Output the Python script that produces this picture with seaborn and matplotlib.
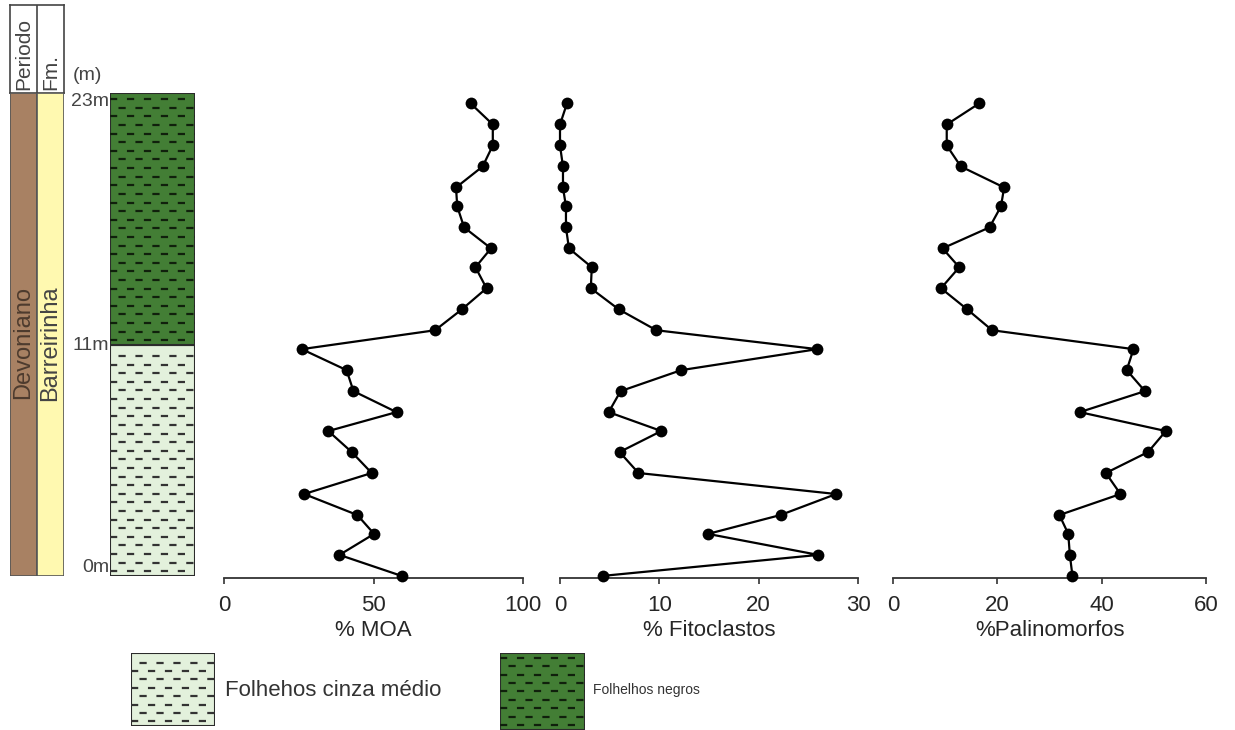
import numpy as np
import matplotlib
matplotlib.use("Agg")
import matplotlib.pyplot as plt
import seaborn as sns

# ---- data (bottom -> top) ----
depth_m = [0.0, 1.0, 2.0, 2.9, 3.9, 4.9, 5.9, 6.9, 7.8, 8.8, 9.8, 10.8,
           11.7, 12.7, 13.7, 14.7, 15.6, 16.6, 17.6, 18.5, 19.5, 20.5, 21.5, 22.5]

moa = [59.4, 38.6, 50.2, 44.6, 26.8, 49.4, 42.7, 34.9, 57.7, 43.3, 41.0, 26.0,
       70.6, 79.6, 87.8, 84.1, 89.3, 80.3, 78.0, 77.6, 86.5, 89.9, 89.9, 82.5]

fitoclastos = [4.3, 26.0, 14.9, 22.2, 27.8, 7.9, 6.0, 10.2, 4.9, 6.1, 12.2, 25.9,
               9.7, 5.9, 3.1, 3.2, 0.9, 0.6, 0.6, 0.3, 0.3, 0.0, 0.0, 0.7]

palinomorfos = [34.4, 33.9, 33.6, 31.9, 43.6, 40.8, 48.9, 52.3, 35.8, 48.3, 44.8, 46.1,
                19.0, 14.2, 9.2, 12.7, 9.5, 18.5, 20.7, 21.3, 13.0, 10.3, 10.3, 16.5]

# lithology layers
layer_bottom = [0, 11]
layer_top = [11, 23]
layer_name = ["Folhehos cinza médio", "Folhelhos negros"]
depth_labels = ["0m", "11m", "23m"]

panel_titles = ["% MOA", "% Fitoclastos", "%Palinomorfos"]
panel_xmax = [100, 30, 60]
panel_ticks = [[0, 50, 100], [0, 10, 20, 30], [0, 20, 40, 60]]

# colours
brown = "#a88163"
yellow = "#fff9b0"
light_green = "#e3f1dc"
dark_green = "#437e35"

sns.set_style("white")
plt.rcParams["font.family"] = ["Liberation Sans", "DejaVu Sans"]
plt.rcParams["lines.scale_dashes"] = False

W, H = 1235, 730
fig = plt.figure(figsize=(W / 100, H / 100), dpi=100)
fig.patch.set_facecolor("white")


def box(x0, y0, x1, y1):
    # pixel box (y from the top) -> figure fraction
    return [x0 / W, 1 - y1 / H, (x1 - x0) / W, (y1 - y0) / H]


def fxy(x, y):
    return x / W, 1 - y / H


def shale(ax, y0, y1, face, ink, step):
    # filled layer with rows of short dashes
    ax.bar(0.5, y1 - y0, bottom=y0, width=1, color=face, edgecolor="#2b2b2b",
           linewidth=1.5, zorder=1)
    rows = np.arange(y0 + step * 0.55, y1 - step * 0.3, step)
    for k, yy in enumerate(rows):
        off = 0 if k % 2 == 0 else 6.1
        ax.plot([0, 1], [yy, yy], color=ink, lw=1.6,
                linestyle=(off, (5.2, 7.0)), solid_capstyle="butt", zorder=2)


# ---- stratigraphy header ----
ax_h = fig.add_axes(box(10, 5, 64, 93))
ax_h.set_xlim(0, 2)
ax_h.set_ylim(0, 1)
ax_h.axvline(1, color="#444444", lw=1.2)
ax_h.set_xticks([])
ax_h.set_yticks([])
for s in ax_h.spines.values():
    s.set_color("#444444")
    s.set_linewidth(1.2)
ax_h.text(0.5, 0.03, "Periodo", rotation=90, ha="center", va="bottom",
          fontsize=15, color="#444444")
ax_h.text(1.5, 0.03, "Fm.", rotation=90, ha="center", va="bottom",
          fontsize=15, color="#444444")

# ---- period / formation columns ----
ax_s = fig.add_axes(box(10, 93, 64, 576))
ax_s.bar([0.5], [23], bottom=0, width=1, color=brown, edgecolor="#555555", linewidth=1.2)
ax_s.bar([1.5], [23], bottom=0, width=1, color=yellow, edgecolor="#555555", linewidth=1.2)
ax_s.set_xlim(0, 2)
ax_s.set_ylim(0, 23)
ax_s.axis("off")
ax_s.text(0.5, 11.1, "Devoniano", rotation=90, ha="center", va="center",
          fontsize=17, color="#4d3b2e")
ax_s.text(1.5, 11.1, "Barreirinha", rotation=90, ha="center", va="center",
          fontsize=17, color="#444444")

# ---- lithology column ----
ax_l = fig.add_axes(box(110, 93, 195, 576))
shale(ax_l, layer_bottom[0], layer_top[0], light_green, "#333333", 0.41)
shale(ax_l, layer_bottom[1], layer_top[1], dark_green, "#10200c", 0.41)
ax_l.set_xlim(0, 1)
ax_l.set_ylim(0, 23)
ax_l.axis("off")
tr = ax_l.get_yaxis_transform()
ax_l.text(-0.01, 0, depth_labels[0], transform=tr, ha="right", va="bottom",
          fontsize=14, color="#444444")
ax_l.text(-0.01, 11, depth_labels[1], transform=tr, ha="right", va="center",
          fontsize=14, color="#444444")
ax_l.text(-0.01, 23, depth_labels[2], transform=tr, ha="right", va="top",
          fontsize=14, color="#444444")
fig.text(*fxy(73, 75), "(m)", ha="left", va="center", fontsize=14, color="#444444")

# ---- profiles ----
panel_px = [(224, 523), (560, 858), (893, 1206)]
series = [moa, fitoclastos, palinomorfos]
for (x0, x1), vals, title, xmax, ticks in zip(panel_px, series, panel_titles,
                                             panel_xmax, panel_ticks):
    ax = fig.add_axes(box(x0, 93, x1, 578))
    sns.lineplot(x=vals, y=depth_m, orient="y", ax=ax, color="black",
                 linewidth=1.6, marker="o", markersize=8.5,
                 markeredgewidth=0, clip_on=False, zorder=3)
    ax.set_xlim(0, xmax)
    ax.set_ylim(-0.1, 23)
    for side in ["top", "right", "left"]:
        ax.spines[side].set_visible(False)
    ax.spines["bottom"].set_color("#333333")
    ax.spines["bottom"].set_linewidth(1.3)
    ax.set_yticks([])
    ax.set_xticks(ticks)
    ax.set_xticklabels([str(t) for t in ticks], fontsize=16)
    ax.tick_params(axis="x", direction="out", length=4, width=1.2,
                   color="#333333", pad=8, bottom=True)
    ax.set_xlabel(title, fontsize=16, labelpad=3)
    ax.patch.set_alpha(0)

# ---- legend ----
ax_g1 = fig.add_axes(box(131, 653, 215, 726))
shale(ax_g1, 0, 1, light_green, "#333333", 0.115)
ax_g1.set_xlim(0, 1)
ax_g1.set_ylim(0, 1)
ax_g1.axis("off")
fig.text(*fxy(225, 690), layer_name[0], ha="left", va="center", fontsize=16,
         color="#333333")

ax_g2 = fig.add_axes(box(500, 653, 585, 730))
shale(ax_g2, 0, 1, dark_green, "#10200c", 0.11)
ax_g2.set_xlim(0, 1)
ax_g2.set_ylim(0, 1)
ax_g2.axis("off")
fig.text(*fxy(593, 690), layer_name[1], ha="left", va="center", fontsize=10,
         color="#333333")

fig.savefig("out.png", dpi=100, facecolor="white")
